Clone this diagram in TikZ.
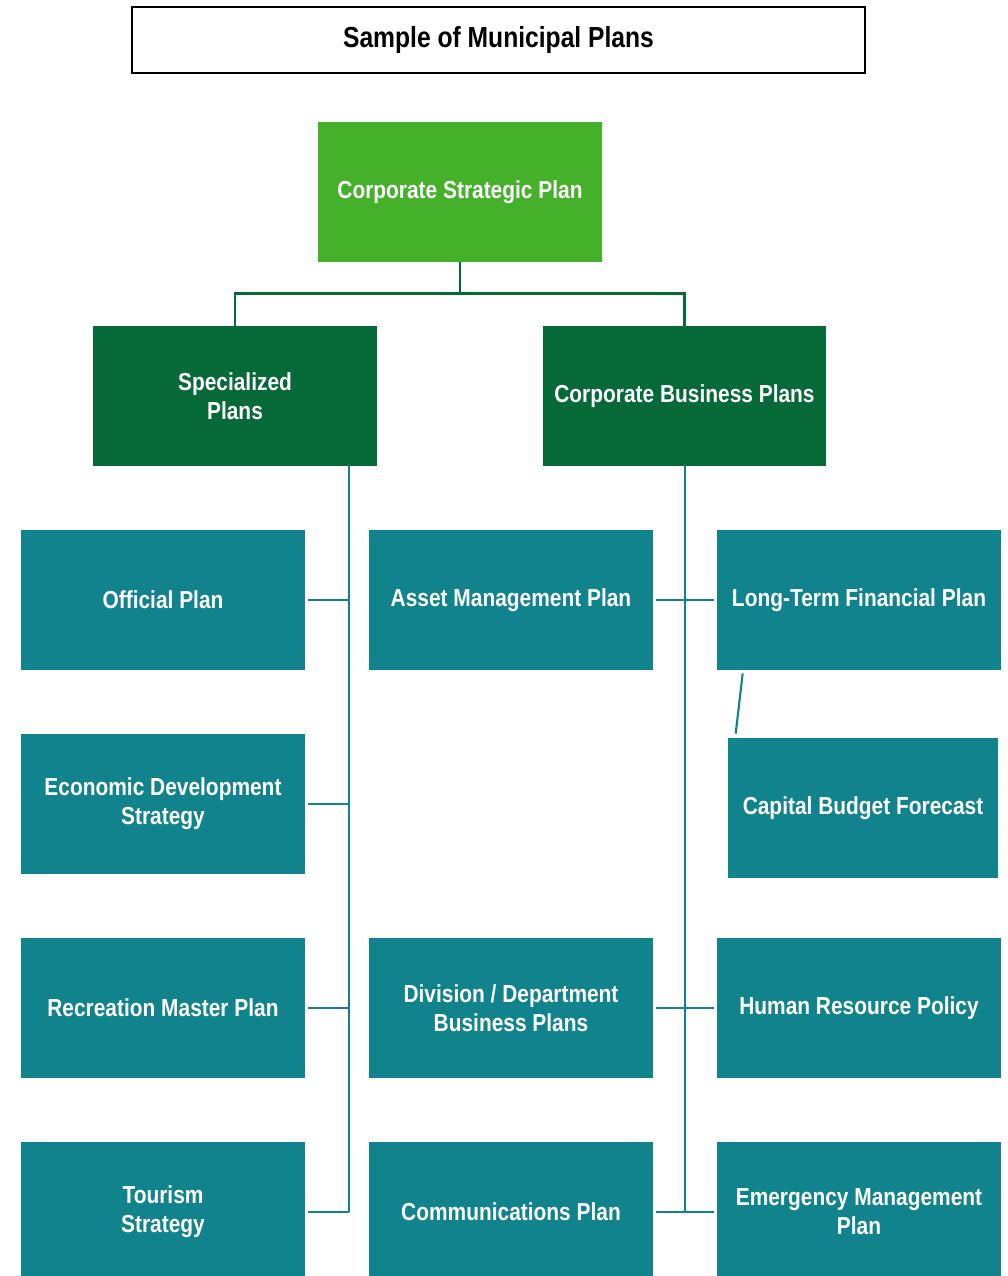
\documentclass[tikz,border=0pt]{standalone}
\usepackage{fontspec}
\setmainfont{Liberation Sans}[FakeStretch=0.85]
\usepackage{tikz}
\usetikzlibrary{calc}
\definecolor{lightgreen}{HTML}{45B12B}
\definecolor{darkgreen}{HTML}{066A38}
\definecolor{planteal}{HTML}{10838C}
\tikzstyle{box}=[rectangle,minimum width=5.68cm,minimum height=2.8cm,inner sep=2pt,align=center,text=white,font=\bfseries\fontsize{14}{16.5}\selectfont]
\tikzstyle{top}=[box,fill=lightgreen]
\tikzstyle{head}=[box,fill=darkgreen]
\tikzstyle{plan}=[box,fill=planteal]
\tikzstyle{gline} = [draw,darkgreen,line width=1.7pt,-]
\tikzstyle{tline} = [draw,planteal,line width=1.2pt,-]

\begin{document}
\begin{tikzpicture}[x=0.02cm,y=-0.02cm]
        \useasboundingbox[fill=white] (0,0) rectangle (1008,1276);
        \node[draw=black,line width=1.2pt,minimum width=14.66cm,minimum height=1.32cm,font=\bfseries\fontsize{16.5}{19}\selectfont] (title) at (498.5,40) {Sample of Municipal Plans};
        \node[top] (csp) at (460,192) {Corporate Strategic Plan};
        \node[head] (spec) at (235,396) {Specialized\\Plans};
        \node[head] (cbp) at (684.5,396) {Corporate Business Plans};
        % specialized plans
        \node[plan] (off) at (163,600) {Official Plan};
        \node[plan] (eds) at (163,804) {Economic Development\\Strategy};
        \node[plan] (rmp) at (163,1008) {Recreation Master Plan};
        \node[plan] (tour) at (163,1212) {Tourism\\Strategy};
        % business plans
        \node[plan] (amp) at (511,600) {Asset Management Plan};
        \node[plan] (ddbp) at (511,1008) {Division / Department\\Business Plans};
        \node[plan] (comm) at (511,1212) {Communications Plan};
        \node[plan] (ltfp) at (859,600) {Long-Term Financial Plan};
        \node[plan,minimum width=5.4cm] (cbf) at (863,808) {Capital Budget Forecast};
        \node[plan] (hrp) at (859,1008) {Human Resource Policy};
        \node[plan] (emp) at (859,1212) {Emergency Management\\Plan};
        \coordinate (split) at (460,293);
        \coordinate (busL) at (349,1212);
        \coordinate (busR) at (685,1212);
        \draw[gline] (csp.south) -- (split);
        \draw[gline] (spec.north) |- (split) -| (cbp.north);
        \draw[tline] (spec.south -| busL) -- (busL);
        \draw[tline] (cbp.south -| busR) -- (busR);
        \foreach \n in {off,eds,rmp,tour}
          \draw[tline] ([xshift=0.06cm]\n.east) -- (\n -| busL);
        \draw[tline,shorten <=0.06cm,shorten >=0.06cm] (amp.east) -- (ltfp.west);
        \draw[tline,shorten <=0.06cm,shorten >=0.06cm] (ddbp.east) -- (hrp.west);
        \draw[tline,shorten <=0.06cm,shorten >=0.06cm] (comm.east) -- (emp.west);
        \draw[tline] ($(ltfp.south west)+(26,3)$) -- ($(cbf.north west)+(8,-4)$);
      \end{tikzpicture}
\end{document}
